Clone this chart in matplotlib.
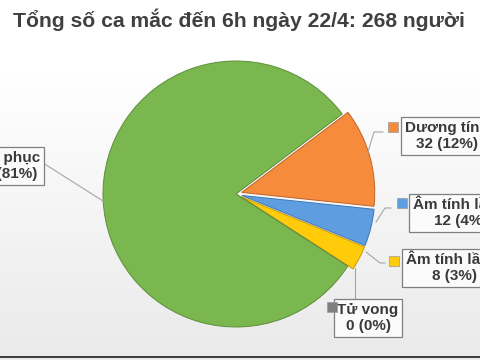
import matplotlib
matplotlib.use("Agg")
import matplotlib.pyplot as plt
import numpy as np

title = "Tổng số ca mắc đến 6h ngày 22/4: 268 người"
labels = ["Dương tính", "Âm tính lần 1", "Âm tính lần 2", "Tử vong", "Bình phục"]
values = [32, 12, 8, 0, 216]
percents = ["12%", "4%", "3%", "0%", "81%"]
colors = ["#f68b3b", "#5d9de0", "#ffcb0a", "#7f7f7f", "#7ab74f"]
edges = ["#c0622a", "#3f78b5", "#c89a00", "#7f7f7f", "#5d8f3a"]

W, H = 480, 360
fig = plt.figure(figsize=(4.8, 3.6), dpi=100)

# background gradient
bg = fig.add_axes([0, 0, 1, 1], zorder=-2)
grad = np.concatenate([np.ones(60), np.linspace(1.0, 0.915, 295)])[:, None]
grad = np.concatenate([grad, np.full((5, 1), 0.915)])
grad[356:358] = 0.25
bg.imshow(grad, cmap="gray", vmin=0, vmax=1, aspect="auto", extent=[0, W, H, 0])
bg.set_axis_off()

# pie, centre (236,194) px, radius 133 px
cx, cy, r = 236, 194, 133
lim = 1.25
ax = fig.add_axes([(cx - lim * r) / W, (H - cy - lim * r) / H, 2 * lim * r / W, 2 * lim * r / H])
ax.pie(values, colors=colors, startangle=37, counterclock=False,
       explode=[0.045, 0.045, 0.045, 0, 0],
       wedgeprops=dict(edgecolor="white", linewidth=1.2))
for w, ec in zip(ax.patches, edges):
    w.set_edgecolor(ec)
    w.set_linewidth(0.7)
ax.set_xlim(-lim, lim)
ax.set_ylim(-lim, lim)
ax.set_axis_off()

# overlay in pixel coords
ov = fig.add_axes([0, 0, 1, 1], zorder=3)
ov.set_xlim(0, W)
ov.set_ylim(H, 0)
ov.set_axis_off()
ov.patch.set_alpha(0)

ov.text(238.5, 27, title, ha="center", va="baseline", fontsize=15.2,
        fontweight="bold", color="#404040", family="Liberation Sans")

box = dict(boxstyle="square,pad=0.25", facecolor="#fbfbfb", edgecolor="#7f7f7f", linewidth=0.9)
# (x, y, ha) for each label box
label_pos = [(405, 136, "left"), (413, 213, "left"), (406, 268, "left"),
             (368, 318, "center"), (40, 166, "right")]
marker_pos = [(393, 127), (402, 203), (394, 261), (332, 307), None]
leaders = [
    [(383, 132), (374, 132), (367, 155)],
    [(391, 208), (385, 208), (376, 222)],
    [(385, 263), (380, 263), (366, 252)],
    [(355, 298), (355, 268)],
    [(43, 163), (103, 201)],
]

for i in range(len(labels)):
    xs, ys = zip(*leaders[i])
    ov.plot(xs, ys, color="#a6a6a6", lw=0.8, zorder=1)
    x, y, ha = label_pos[i]
    ov.text(x, y, f"{labels[i]}\n{values[i]} ({percents[i]})", ha=ha, va="center",
            multialignment="center", fontsize=11, fontweight="bold", color="#3a3a3a",
            family="Liberation Sans", linespacing=1.15, bbox=box, zorder=2)
    if marker_pos[i] is not None:
        mx, my = marker_pos[i]
        ov.scatter([mx], [my], marker="s", s=45, color=colors[i], edgecolor="#9a9a9a",
                   linewidth=0.5, zorder=2)

fig.savefig("out.png", dpi=100)
